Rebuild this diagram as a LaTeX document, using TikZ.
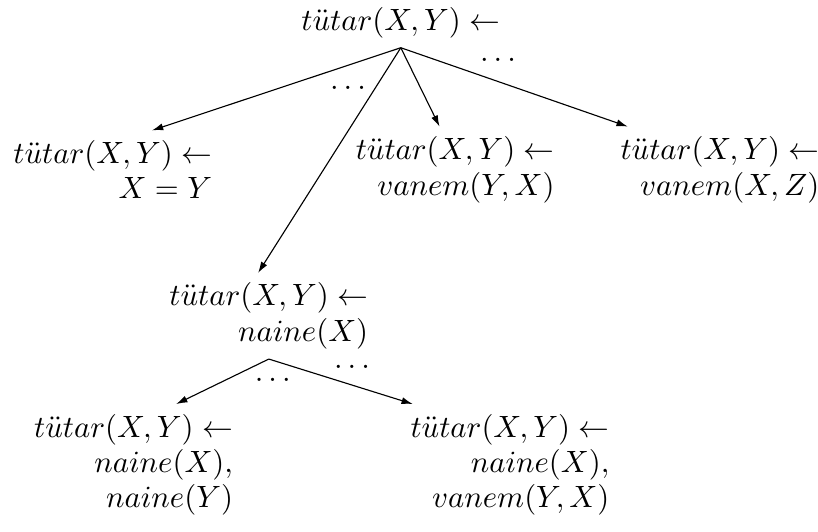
\documentclass[tikz,border=0pt]{standalone}
\usepackage{tikz}
\usetikzlibrary{positioning, arrows.meta}

\begin{document}
\begin{tikzpicture}[
    clause/.style={align=right, font=\fontsize{10.8}{12.6}\selectfont},
    arc/.style={-{Latex[length=4pt,width=2.5pt]}},
    gap/.style={inner sep=0pt, font=\fontsize{10.8}{12.6}\selectfont}]
    \useasboundingbox (0,0) rectangle (10.225,-6.6375);

    \node[clause] (root) at (5.01,-0.28) {$t\ddot{u}tar(X,Y) \leftarrow$};

    \node[clause] (eq) at (1.41,-2.12) {%
      $t\ddot{u}tar(X,Y) \leftarrow$\\
      $X = Y$};
    \node[clause] (par) at (5.69,-2.12) {%
      $t\ddot{u}tar(X,Y) \leftarrow$\\
      $vanem(Y,X)$};
    \node[clause] (anc) at (9.0,-2.12) {%
      $t\ddot{u}tar(X,Y) \leftarrow$\\
      $vanem(X,Z)$};
    \node[clause] (fem) at (3.36,-3.95) {%
      $t\ddot{u}tar(X,Y) \leftarrow$\\
      $naine(X)$};
    \node[clause] (both) at (1.67,-5.81) {%
      $t\ddot{u}tar(X,Y) \leftarrow$\\
      $naine(X),$\\
      $naine(Y)$};
    \node[clause] (fempar) at (6.375,-5.81) {%
      $t\ddot{u}tar(X,Y) \leftarrow$\\
      $naine(X),$\\
      $vanem(Y,X)$};

    % elided branches
    \node[gap] (dotsa) at (4.35,-1.1) {$\dots$};
    \node[gap] (dotsb) at (6.225,-0.75) {$\dots$};
    \node[gap] (dotsc) at (3.41,-4.75) {$\dots$};
    \node[gap] (dotsd) at (4.4,-4.59) {$\dots$};

    \draw[arc] (root.south) -- (eq.45);
    \draw[arc] (root.south) -- (fem.104);
    \draw[arc] (root.south) -- (par.110);
    \draw[arc] (root.south) -- (anc.155);

    \draw[arc] (fem.south) -- (both.55);
    \draw[arc] (fem.south) -- (fempar.148);
  \end{tikzpicture}
\end{document}
